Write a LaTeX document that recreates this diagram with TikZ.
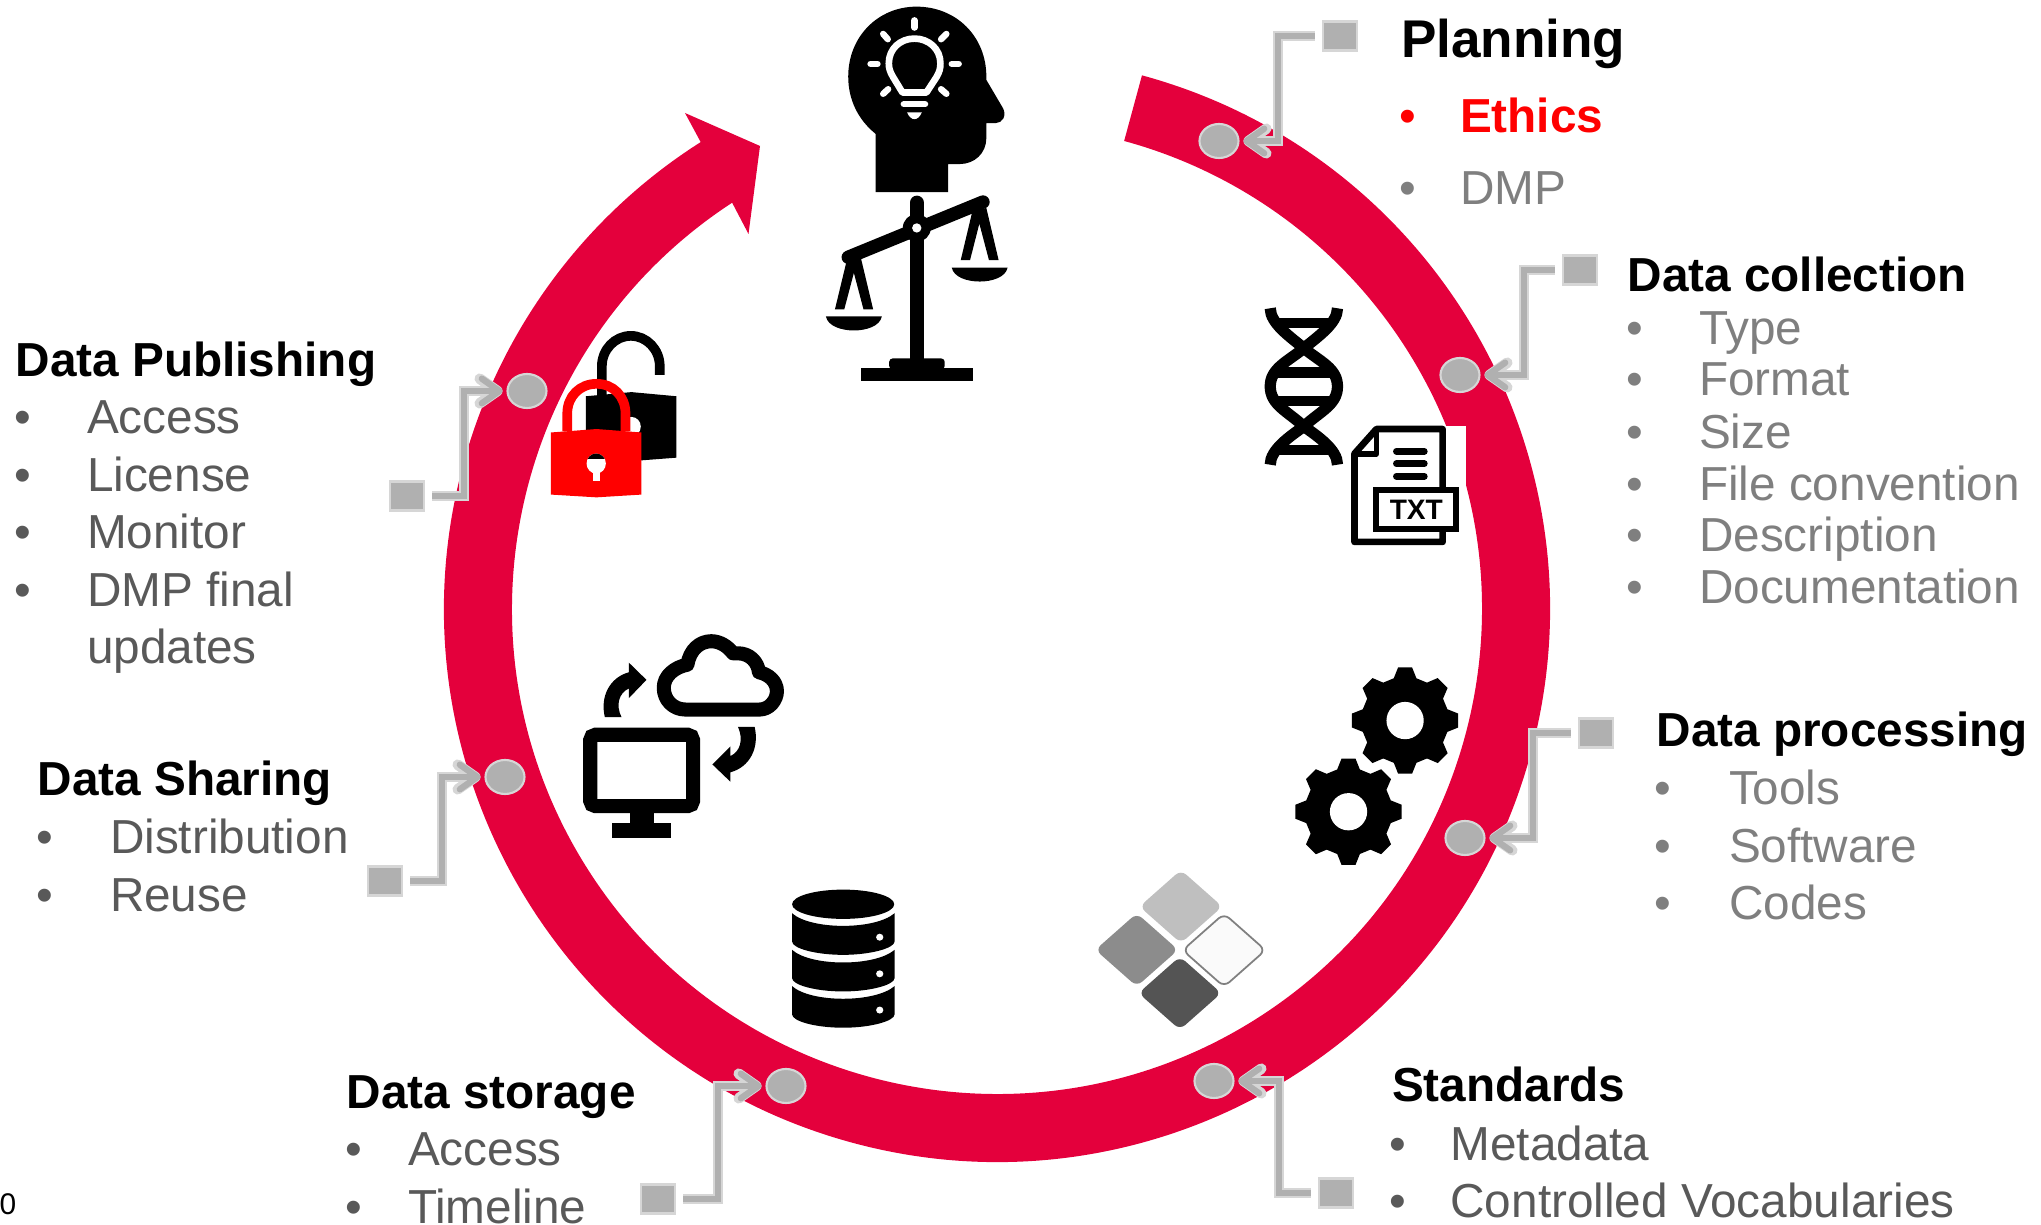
\documentclass[tikz,border=0pt]{standalone}
\usepackage{fontspec}
\setmainfont{Liberation Sans}
\usetikzlibrary{arrows.meta,shapes.geometric,calc}
\definecolor{ringred}{HTML}{E4003C}
\definecolor{markfill}{HTML}{B0B0B0}
\definecolor{markedge}{HTML}{D6D6D6}
\definecolor{itemlight}{HTML}{7F7F7F}
\definecolor{itemdark}{HTML}{595959}
\tikzset{
    dotmark/.style={ellipse,draw=markedge,fill=markfill,line width=0.6pt,minimum width=0.39cm,minimum height=0.34cm,inner sep=0},
    boxmark/.style={rectangle,draw=markedge,fill=markfill,line width=0.6pt,minimum width=0.34cm,minimum height=0.29cm,inner sep=0},
    linkline/.style={draw=markedge,line width=3pt,-{Straight Barb[round,length=5pt,width=7pt]},shorten >=1.1pt,shorten <=2pt,
        postaction={draw=markfill,line width=1.8pt}},
    heading/.style={anchor=base west,inner sep=0,xshift=0.013cm,yshift=-0.013cm,font=\fontsize{13.57}{16}\selectfont\bfseries},
    itemtext/.style={anchor=base west,inner sep=0,xshift=0.013cm,yshift=-0.013cm,font=\fontsize{13.57}{16}\selectfont},
    itembullet/.style={anchor=base,inner sep=0,yshift=-0.013cm,font=\fontsize{13.57}{16}\selectfont},
    zoomed/.style={x=0.003333cm,y=-0.003333cm},
    tilea/.style={fill=black!25},
    tileb/.style={fill=black!45},
    tilec/.style={fill=black!2,draw=black!50,line width=0.5pt},
    tiled/.style={fill=black!67},
}
\begin{document}
\begin{tikzpicture}[x=0.01cm,y=-0.01cm]
    \useasboundingbox (0,0) rectangle (2041,1225);
    %draw ring
    \coordinate (ringc) at (997,609);
    \fill[ringred] (ringc) ++(-74.8:553) arc[start angle=-74.8,end angle=237.6,radius=553]
        -- (685,113) -- (760,146) -- (748.5,234) -- ($(ringc)+(236.9:485)$)
        arc[start angle=236.9,end angle=-74.8,radius=485] -- cycle;
    %draw head
    \begin{scope}[shift={(780,0)},zoomed]
        \fill (287,577) -- (287,402) .. controls (235,360) and (205,300) .. (205,230)
            .. controls (205,110) and (295,20) .. (410,20) .. controls (530,20) and (620,110) .. (620,230)
            -- (620,240) -- (670,325) .. controls (682,348) and (668,370) .. (648,370) -- (620,370) -- (620,415)
            .. controls (620,460) and (585,493) .. (540,493) -- (505,493) -- (505,577) -- cycle;
        \draw[white,line width=1.9pt,line join=round] (368,278) -- (440,278) -- (470,232)
            .. controls (480,215) and (482,205) .. (482,190) .. controls (482,147) and (447,116) .. (404,116)
            .. controls (361,116) and (327,147) .. (327,190) .. controls (327,205) and (330,215) .. (340,232) -- cycle;
        \foreach \ax/\ay/\bx/\by in {404/61/404/83,310/102/324/118,484/118/500/102,272/192/293/192,516/192/537/192,310/282/325/268,484/268/500/282,372/313/436/313}
            {%
                \draw[white,line width=1.8pt,line cap=round] (\ax,\ay) -- (\bx,\by);
            }
        \fill[white] (382,338) -- (426,338) .. controls (420,352) and (412,358) .. (404,358)
            .. controls (396,358) and (388,352) .. (382,338) -- cycle;
        %draw scales
        \draw[line width=4pt,line cap=round] (411,609) -- (411,1090);
        \draw[line width=3.8pt,line cap=round] (205,773) -- (610,607);
        \fill (411,685) circle[radius=42];
        \fill[white] (411,685) circle[radius=14];
        \fill[rounded corners=1pt] (328,1110) -- (328,1077) -- (495,1077) -- (495,1110) -- cycle;
        \fill (243,1105) rectangle (579,1146);
        \fill (200,785) -- (165,930) -- (193,930) -- (222,820) -- (251,930) -- (280,930) -- (243,775) -- cycle;
        \fill (578,635) -- (543,782) -- (571,782) -- (599,672) -- (628,782) -- (657,782) -- (620,625) -- cycle;
        \fill (138,951) -- (306,951) .. controls (300,980) and (260,993) .. (222,993) .. controls (184,993) and (144,980) .. (138,951) -- cycle;
        \fill (516,804) -- (684,804) .. controls (678,833) and (638,846) .. (600,846) .. controls (562,846) and (522,833) .. (516,804) -- cycle;
    \end{scope}
    %draw dna and file
    \begin{scope}[shift={(1220,280)},zoomed]
        \draw[line width=3.2pt] (151,85) .. controls (151,130) and (210,170) .. (252,205) .. controls (300,245) and (353,265) .. (353,320)
            .. controls (353,375) and (300,395) .. (252,440) .. controls (210,470) and (151,510) .. (151,555);
        \draw[line width=3.2pt] (353,85) .. controls (353,130) and (294,170) .. (252,205) .. controls (204,245) and (151,265) .. (151,320)
            .. controls (151,375) and (204,395) .. (252,440) .. controls (294,470) and (353,510) .. (353,555);
        \foreach \y in {129,278,364,512}
            {%
                \draw[line width=2.9pt] (160,\y) -- (344,\y);
            }
        \fill[white] (394,438) rectangle (738,797);
        \draw[line width=1.9pt,line join=round] (404,522) -- (470,448) -- (669,448) -- (669,787) -- (404,787) -- cycle;
        \draw[line width=1.6pt,line join=round] (404,522) -- (470,522) -- (470,448);
        \foreach \y in {515,552,590}
            {%
                \draw[line width=1.9pt,line cap=round] (530,\y) -- (614,\y);
            }
        \node[draw,fill=white,line width=1.7pt,minimum width=0.8cm,minimum height=0.39cm,inner sep=0,font=\fontsize{8}{9}\selectfont\bfseries] (txtlabel) at (590,690) {TXT};
    \end{scope}
    %draw gears
    \begin{scope}[shift={(1260,650)},zoomed]
        \foreach \gx/\gy in {436/212,266/486}
            {%
                \begin{scope}[shift={(\gx,\gy)}]
                    \fill (-15:131.5) \foreach \a in {0,45,...,315} {-- (\a-7.5:161) -- (\a+7.5:161) -- (\a+15:131.5) -- (\a+30:131.5)} -- cycle;
                    \fill[white] (0,0) circle[radius=56];
                \end{scope}
            }
    \end{scope}
    %draw tiles and database
    \begin{scope}[shift={(760,860)},x=0.003444cm,y=-0.003333cm]
        \foreach \cx/\cy/\tile in {1220/140/tilea,1092/270/tileb,1345/271/tilec,1217/400/tiled}
            {%
                \path[rounded corners=2pt,\tile] (\cx,\cy-110) -- (\cx+120,\cy) -- (\cx,\cy+110) -- (\cx-120,\cy) -- cycle;
            }
        \fill (241,133) ellipse[x radius=148,y radius=44];
        \foreach \d in {0,110,219}
            {%
                \begin{scope}[shift={(0,\d)}]
                    \fill (93,160) .. controls (120,185) and (180,198) .. (241,198) .. controls (302,198) and (362,185) .. (390,160)
                        -- (390,245) .. controls (390,265) and (320,285) .. (241,285) .. controls (160,285) and (93,265) .. (93,245) -- cycle;
                    \fill[white] (347,232) circle[radius=10.5];
                \end{scope}
            }
    \end{scope}
    %draw locks and cloud
    \begin{scope}[shift={(520,310)},x=0.003333cm,y=-0.003444cm]
        \draw[line width=2.75pt] (246,262) -- (246,163) .. controls (246,115) and (285,75) .. (333,75)
            .. controls (381,75) and (420,115) .. (420,163) -- (420,188);
        \fill (198,250) -- (335,238) -- (470,250) -- (470,428) -- (335,438) -- (198,428) -- cycle;
        \fill[white] (335,338) circle[radius=28];
        \draw[red,line width=2.75pt] (142,352) -- (142,300) .. controls (142,250) and (180,214) .. (230,214)
            .. controls (280,214) and (317,250) .. (317,300) -- (317,352);
        \fill[red] (93,355) -- (230,345) -- (365,355) -- (365,535) -- (230,543) -- (93,535) -- cycle;
        \fill[white] (229,445) circle[radius=29];
        \fill[white] (220,460) rectangle (240,497);
        \begin{scope}
            \clip (190,400) rectangle (270,431);
            \fill (229,445) circle[radius=29];
        \end{scope}
        \draw[line width=4pt,line join=round] (497,1158) -- (720,1158) .. controls (750,1158) and (772,1130) .. (772,1105)
            .. controls (772,1075) and (745,1055) .. (718,1050) .. controls (715,1020) and (690,995) .. (655,995)
            -- (640,995) .. controls (625,975) and (600,960) .. (575,960) .. controls (540,960) and (510,985) .. (503,1028)
            .. controls (465,1035) and (432,1060) .. (432,1095) .. controls (432,1130) and (460,1158) .. (497,1158) -- cycle;
        \fill (255,1180) .. controls (240,1120) and (270,1065) .. (327,1050) -- (327,1022) -- (380,1072) -- (327,1125) -- (327,1097)
            .. controls (297,1110) and (287,1145) .. (305,1180) -- cycle;
        \fill (705,1208) .. controls (720,1270) and (690,1325) .. (632,1340) -- (632,1367) -- (578,1317) -- (632,1265) -- (632,1293)
            .. controls (662,1280) and (672,1245) .. (655,1208) -- cycle;
        \draw[line width=4pt,rounded corners=1.5pt] (211,1231) rectangle (520,1438);
        \fill (330,1455) rectangle (402,1490);
        \fill (277,1488) rectangle (454,1530);
    \end{scope}
    %draw marks
    \node[dotmark] (dotplan) at (1219,141) {};
    \node[dotmark] (dotcoll) at (1460,375) {};
    \node[dotmark] (dotproc) at (1465,838) {};
    \node[dotmark] (dotstd) at (1214,1081) {};
    \node[dotmark] (dotstore) at (786,1086) {};
    \node[dotmark] (dotshare) at (505,777) {};
    \node[dotmark] (dotpub) at (527,391) {};
    \node[boxmark] (boxplan) at (1340,36) {};
    \node[boxmark] (boxcoll) at (1580,270) {};
    \node[boxmark] (boxproc) at (1596,733) {};
    \node[boxmark] (boxstd) at (1336,1193) {};
    \node[boxmark] (boxstore) at (658,1199) {};
    \node[boxmark] (boxshare) at (385,881) {};
    \node[boxmark] (boxpub) at (407,496) {};
    %draw links
    \coordinate (kplan) at (1278,141);
    \coordinate (kcoll) at (1524,375);
    \coordinate (kproc) at (1533,838);
    \coordinate (kstd) at (1279,1081);
    \coordinate (kstore) at (718,1086);
    \coordinate (kshare) at (442,777);
    \coordinate (kpub) at (464,391);
    \foreach \m in {plan,coll,proc,std,store,share,pub}
        {%
            \draw[linkline] (box\m) -| (k\m) -- (dot\m);
        }
    %draw planning
    \node[heading,font=\fontsize{15.1}{18}\selectfont\bfseries] (titleplan) at (1399,56.5) {Planning};
    \node[itembullet,red] (bulplan1) at (1408,131.7) {•};
    \node[itemtext,red,font=\fontsize{13.57}{16}\selectfont\bfseries] (itemplan1) at (1458,131.7) {Ethics};
    \node[itembullet,itemlight] (bulplan2) at (1408,203) {•};
    \node[itemtext,itemlight] (itemplan2) at (1458,203) {DMP};
    %draw data collection
    \node[heading] (titlecoll) at (1625.6,290.6) {Data collection};
    \foreach \n/\yy/\t in {1/343/Type,2/394.6/Format,3/447/Size,4/499/File convention,5/550/Description,6/602/Documentation}
        {%
            \node[itembullet,itemlight] (bulcoll\n) at (1635,\yy) {•};
            \node[itemtext,itemlight] (itemcoll\n) at (1697,\yy) {\t};
        }
    %draw data processing
    \node[heading] (titleproc) at (1654.6,745) {Data processing};
    \foreach \n/\yy/\t in {1/803/Tools,2/861/Software,3/918/Codes}
        {%
            \node[itembullet,itemlight] (bulproc\n) at (1663,\yy) {•};
            \node[itemtext,itemlight] (itemproc\n) at (1727,\yy) {\t};
        }
    %draw standards
    \node[heading] (titlestd) at (1390,1100.7) {Standards};
    \foreach \n/\yy/\t in {1/1159/Metadata,2/1216/Controlled Vocabularies}
        {%
            \node[itembullet,itemdark] (bulstd\n) at (1398,\yy) {•};
            \node[itemtext,itemdark] (itemstd\n) at (1448.5,\yy) {\t};
        }
    %draw data storage
    \node[heading] (titlestore) at (344.6,1107) {Data storage};
    \foreach \n/\yy/\t in {1/1164/Access,2/1222/Timeline}
        {%
            \node[itembullet,itemdark] (bulstore\n) at (353.5,\yy) {•};
            \node[itemtext,itemdark] (itemstore\n) at (406,\yy) {\t};
        }
    %draw data sharing
    \node[heading] (titleshare) at (35.6,794.5) {Data Sharing};
    \foreach \n/\yy/\t in {1/852.6/Distribution,2/910/Reuse}
        {%
            \node[itembullet,itemdark] (bulshare\n) at (45,\yy) {•};
            \node[itemtext,itemdark] (itemshare\n) at (108,\yy) {\t};
        }
    %draw data publishing
    \node[heading] (titlepub) at (13.6,375) {Data Publishing};
    \foreach \n/\yy/\t in {1/432/Access,2/490/License,3/547/Monitor,4/605/DMP final}
        {%
            \node[itembullet,itemdark] (bulpub\n) at (23,\yy) {•};
            \node[itemtext,itemdark] (itempub\n) at (85,\yy) {\t};
        }
    \node[itemtext,itemdark] (itempub5) at (85,662) {updates};
    \node[anchor=base west,inner sep=0,font=\fontsize{8.5}{10}\selectfont] (pagenum) at (-1,1215) {0};
\end{tikzpicture}
\end{document}
